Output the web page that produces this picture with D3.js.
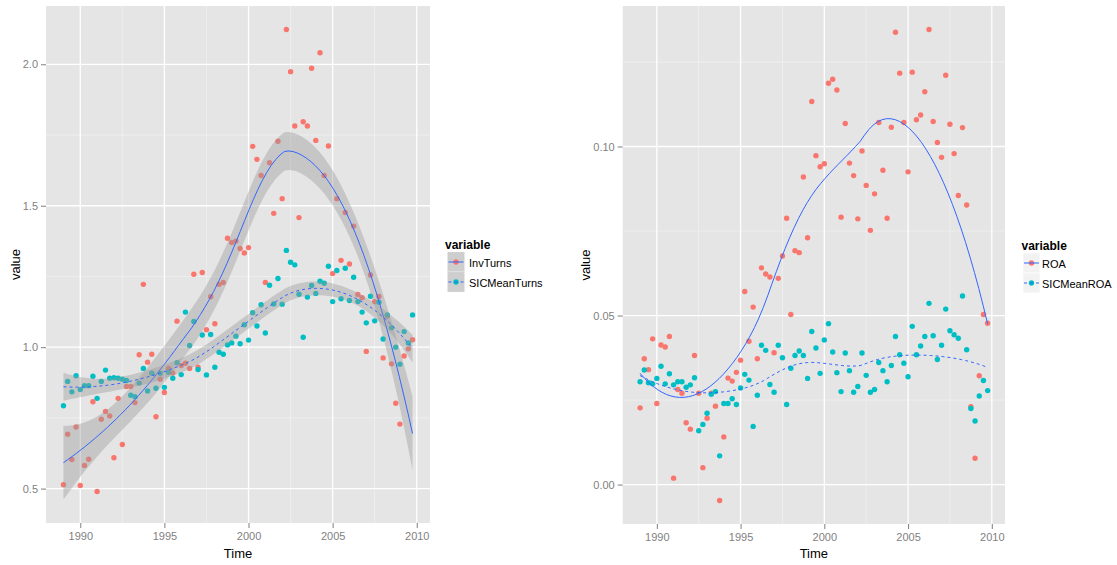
<!DOCTYPE html>
<html>
<head>
<meta charset="utf-8">
<script src="https://cdn.jsdelivr.net/npm/d3@7"></script>
<style>
  body { margin: 0; background: #fff; }
  text { font-family: "Liberation Sans", Arial, sans-serif; }
</style>
</head>
<body>
<svg id="chart" width="1117" height="565"></svg>
<script>
// Quarterly observations, 1989Q1 – 2009Q4
const time = d3.range(84).map(i => 1989 + i / 4);

// Inventory turns: firm vs. SIC industry mean
const invTurns = [
  0.514, 0.692, 0.603, 0.718, 0.511, 0.582, 0.604, 0.807, 0.490, 0.745,
  0.773, 0.757, 0.609, 0.819, 0.656, 0.861, 0.861, 0.804, 0.973, 1.222,
  0.947, 0.975, 0.754, 0.887, 0.840, 0.925, 0.909, 1.092, 0.935, 0.943,
  0.925, 1.258, 0.929, 1.264, 1.062, 1.178, 1.083, 1.222, 1.229, 1.385,
  1.370, 1.375, 1.349, 1.333, 1.352, 1.710, 1.664, 1.607, 1.229, 1.652,
  1.473, 1.728, 1.525, 2.123, 1.974, 1.782, 1.458, 1.797, 1.782, 1.986,
  1.731, 2.041, 1.607, 1.711, 1.260, 1.525, 1.307, 1.476, 1.294, 1.428,
  1.186, 1.175, 0.985, 1.255, 1.161, 1.179, 0.962, 1.110, 0.941, 0.802,
  0.728, 0.969, 0.994, 1.026
];
const sicMeanTurns = [
  0.793, 0.879, 0.842, 0.899, 0.850, 0.864, 0.864, 0.897, 0.819, 0.879,
  0.919, 0.890, 0.892, 0.890, 0.887, 0.882, 0.830, 0.825, 0.873, 0.925,
  0.845, 0.908, 0.855, 0.908, 0.858, 0.911, 0.890, 0.945, 0.903, 1.124,
  1.006, 1.091, 0.921, 1.043, 0.902, 1.045, 0.929, 0.982, 0.975, 1.008,
  1.015, 1.039, 1.012, 1.079, 1.025, 1.122, 1.075, 1.150, 1.050, 1.219,
  1.153, 1.243, 1.152, 1.342, 1.300, 1.291, 1.187, 1.035, 1.177, 1.218,
  1.190, 1.233, 1.226, 1.286, 1.161, 1.271, 1.171, 1.279, 1.165, 1.247,
  1.161, 1.124, 1.086, 1.180, 1.093, 1.159, 1.029, 1.114, 1.069, 1.000,
  0.940, 1.055, 1.015, 1.114
];

// Return on assets: firm vs. SIC industry mean
const roa = [
  0.0227, 0.0372, 0.0340, 0.0431, 0.0240, 0.0413, 0.0407, 0.0438, 0.0019, 0.0281,
  0.0270, 0.0183, 0.0164, 0.0382, 0.0270, 0.0050, 0.0196, 0.0270, 0.0232, -0.0047,
  0.0141, 0.0315, 0.0306, 0.0332, 0.0368, 0.0571, 0.0424, 0.0525, 0.0372, 0.0641,
  0.0623, 0.0614, 0.0390, 0.0610, 0.0676, 0.0788, 0.0503, 0.0692, 0.0686, 0.0910,
  0.0730, 0.1133, 0.0973, 0.0940, 0.0949, 0.1187, 0.1199, 0.1167, 0.0791, 0.1068,
  0.0951, 0.0914, 0.0786, 0.0987, 0.0885, 0.0752, 0.0860, 0.1071, 0.0930, 0.0788,
  0.1057, 0.1338, 0.1217, 0.1071, 0.0925, 0.1220, 0.1079, 0.1093, 0.1162, 0.1346,
  0.1074, 0.1012, 0.0968, 0.1211, 0.1066, 0.0979, 0.0855, 0.1056, 0.0827, 0.0230,
  0.0078, 0.0322, 0.0503, 0.0477
];
const sicMeanROA = [
  0.0304, 0.0339, 0.0301, 0.0298, 0.0314, 0.0350, 0.0298, 0.0328, 0.0295, 0.0304,
  0.0304, 0.0288, 0.0295, 0.0316, 0.0159, 0.0178, 0.0211, 0.0267, 0.0275, 0.0085,
  0.0240, 0.0240, 0.0254, 0.0237, 0.0286, 0.0326, 0.0309, 0.0172, 0.0264, 0.0412,
  0.0397, 0.0296, 0.0273, 0.0412, 0.0375, 0.0237, 0.0344, 0.0382, 0.0395, 0.0382,
  0.0314, 0.0453, 0.0404, 0.0329, 0.0428, 0.0476, 0.0392, 0.0331, 0.0275, 0.0389,
  0.0337, 0.0273, 0.0290, 0.0389, 0.0323, 0.0273, 0.0281, 0.0361, 0.0337, 0.0304,
  0.0352, 0.0438, 0.0384, 0.0359, 0.0319, 0.0468, 0.0384, 0.0410, 0.0438, 0.0536,
  0.0440, 0.0370, 0.0412, 0.0519, 0.0455, 0.0443, 0.0433, 0.0558, 0.0399, 0.0225,
  0.0188, 0.0262, 0.0308, 0.0278
];

const xTickValues = [1990, 1995, 2000, 2005, 2010];
const turnsTickValues = [0.5, 1.0, 1.5, 2.0];
const roaTickValues = [0.00, 0.05, 0.10];
const turnsNames = ["InvTurns", "SICMeanTurns"];
const roaNames = ["ROA", "SICMeanROA"];
const seriesColors = ["#F8766D", "#00BFC4"];
const seriesDash = [null, "3,3"];
const smoothColor = "#3366FF";

// ---------- local quadratic regression (loess, span 0.75, tricube weights) ----------
function invert3(m) {
  const [a, b, c] = m[0], [d, e, f] = m[1], [g, h, k] = m[2];
  const A = e * k - f * h, B = -(d * k - f * g), C = d * h - e * g;
  const det = a * A + b * B + c * C;
  return [
    [A / det, -(b * k - c * h) / det, (b * f - c * e) / det],
    [B / det, (a * k - c * g) / det, -(a * f - c * d) / det],
    [C / det, -(a * h - b * g) / det, (a * e - b * d) / det]
  ];
}
function loessWeights(xs, x0, span) {
  const n = xs.length;
  const q = Math.floor(n * span);
  const dist = xs.map(x => Math.abs(x - x0));
  const h = dist.slice().sort((a, b) => a - b)[q - 1] * 1.0000001;
  const w = dist.map(v => { const u = v / h; return u < 1 ? Math.pow(1 - u * u * u, 3) : 0; });
  const S = [[0, 0, 0], [0, 0, 0], [0, 0, 0]];
  xs.forEach((x, i) => {
    const t = x - x0, b = [1, t, t * t];
    for (let r = 0; r < 3; r++) for (let c = 0; c < 3; c++) S[r][c] += w[i] * b[r] * b[c];
  });
  const inv = invert3(S)[0];
  return xs.map((x, i) => { const t = x - x0; return w[i] * (inv[0] + inv[1] * t + inv[2] * t * t); });
}
function qt975(df) {
  const z = 1.959964;
  const g1 = (z ** 3 + z) / 4;
  const g2 = (5 * z ** 5 + 16 * z ** 3 + 3 * z) / 96;
  const g3 = (3 * z ** 7 + 19 * z ** 5 + 17 * z ** 3 - 15 * z) / 384;
  return z + g1 / df + g2 / df ** 2 + g3 / df ** 3;
}
function loessSmooth(xs, ys, span, nEval) {
  const n = xs.length;
  const L = xs.map(x0 => loessWeights(xs, x0, span));
  const fitted = L.map(r => d3.sum(r, (v, j) => v * ys[j]));
  const A = L.map((r, i) => r.map((v, j) => (i === j ? 1 : 0) - v));
  let delta1 = 0, delta2 = 0;
  for (let j = 0; j < n; j++) {
    for (let k = 0; k < n; k++) {
      let m = 0;
      for (let i = 0; i < n; i++) m += A[i][j] * A[i][k];
      if (j === k) delta1 += m;
      delta2 += m * m;
    }
  }
  const rss = d3.sum(ys, (y, i) => (y - fitted[i]) ** 2);
  const s = Math.sqrt(rss / delta1);
  const tq = qt975(delta1 * delta1 / delta2);
  const [lo, hi] = d3.extent(xs);
  return d3.range(nEval).map(k => {
    const x = lo + (hi - lo) * k / (nEval - 1);
    const r = loessWeights(xs, x, span);
    const fit = d3.sum(r, (v, j) => v * ys[j]);
    const se = s * Math.sqrt(d3.sum(r, v => v * v));
    return { x, fit, lo: fit - tq * se, hi: fit + tq * se };
  });
}

// ---------- drawing ----------
const svg = d3.select("#chart");

const panels = [
  {
    left: 46, right: 430, top: 6, bottom: 523,
    series: [invTurns, sicMeanTurns], names: turnsNames, yTicks: turnsTickValues,
    yFormat: d3.format(".1f"), band: true,
    titleX: 445, titleY: 249, keyX: 447.5, keyY: 252, keyW: 17, labelX: 469,
    yTitleX: 20
  },
  {
    left: 622.7, right: 1005, top: 6, bottom: 524,
    series: [roa, sicMeanROA], names: roaNames, yTicks: roaTickValues,
    yFormat: d3.format(".2f"), band: false,
    titleX: 1021.5, titleY: 250, keyX: 1023, keyY: 253, keyW: 17, labelX: 1042,
    yTitleX: 590
  }
];

function expand(ext) {
  const pad = (ext[1] - ext[0]) * 0.05;
  return [ext[0] - pad, ext[1] + pad];
}

panels.forEach(p => {
  const smooths = p.series.map(ys => loessSmooth(time, ys, 0.75, 80));

  let yExt = d3.extent(p.series.flat());
  if (p.band) {
    smooths.forEach(sm => {
      yExt = [Math.min(yExt[0], d3.min(sm, d => d.lo)), Math.max(yExt[1], d3.max(sm, d => d.hi))];
    });
  }
  const x = d3.scaleLinear().domain(expand(d3.extent(time))).range([p.left, p.right]);
  const y = d3.scaleLinear().domain(expand(yExt)).range([p.bottom, p.top]);

  const g = svg.append("g");
  // panel background
  g.append("rect")
    .attr("x", p.left).attr("y", p.top)
    .attr("width", p.right - p.left).attr("height", p.bottom - p.top)
    .attr("fill", "#E5E5E5");

  // minor grid
  const xMinor = d3.range(1987.5, 2013, 5).filter(v => v > x.domain()[0] && v < x.domain()[1]);
  const yStep = p.yTicks[1] - p.yTicks[0];
  const yMinor = d3.range(p.yTicks[0] - yStep / 2, p.yTicks[p.yTicks.length - 1] + yStep, yStep)
    .filter(v => v > y.domain()[0] && v < y.domain()[1]);
  g.selectAll(".vminor").data(xMinor).join("line")
    .attr("x1", d => x(d)).attr("x2", d => x(d)).attr("y1", p.top).attr("y2", p.bottom)
    .attr("stroke", "#F2F2F2").attr("stroke-width", 0.7);
  g.selectAll(".hminor").data(yMinor).join("line")
    .attr("y1", d => y(d)).attr("y2", d => y(d)).attr("x1", p.left).attr("x2", p.right)
    .attr("stroke", "#F2F2F2").attr("stroke-width", 0.7);
  // major grid
  g.selectAll(".vmajor").data(xTickValues).join("line")
    .attr("x1", d => x(d)).attr("x2", d => x(d)).attr("y1", p.top).attr("y2", p.bottom)
    .attr("stroke", "#FFFFFF").attr("stroke-width", 1.3);
  g.selectAll(".hmajor").data(p.yTicks).join("line")
    .attr("y1", d => y(d)).attr("y2", d => y(d)).attr("x1", p.left).attr("x2", p.right)
    .attr("stroke", "#FFFFFF").attr("stroke-width", 1.3);

  // points
  p.series.forEach((ys, s) => {
    g.append("g").selectAll("circle").data(ys).join("circle")
      .attr("cx", (d, i) => x(time[i])).attr("cy", d => y(d)).attr("r", 2.7)
      .attr("fill", seriesColors[s]);
  });

  // smoothers (band + fitted line per series)
  smooths.forEach((sm, s) => {
    if (p.band) {
      g.append("path").datum(sm)
        .attr("d", d3.area().x(d => x(d.x)).y0(d => y(d.lo)).y1(d => y(d.hi)))
        .attr("fill", "#999999").attr("fill-opacity", 0.4);
    }
    g.append("path").datum(sm)
      .attr("d", d3.line().x(d => x(d.x)).y(d => y(d.fit)))
      .attr("fill", "none").attr("stroke", smoothColor).attr("stroke-width", 1)
      .attr("stroke-dasharray", seriesDash[s]);
  });

  // axes
  const ax = svg.append("g").attr("transform", `translate(0,${p.bottom})`)
    .call(d3.axisBottom(x).tickValues(xTickValues).tickFormat(d3.format("d")).tickSize(5).tickPadding(4));
  const ay = svg.append("g").attr("transform", `translate(${p.left},0)`)
    .call(d3.axisLeft(y).tickValues(p.yTicks).tickFormat(p.yFormat).tickSize(5).tickPadding(3));
  [ax, ay].forEach(a => {
    a.select(".domain").remove();
    a.selectAll(".tick line").attr("stroke", "#7F7F7F");
    a.selectAll(".tick text").attr("fill", "#7F7F7F").style("font-size", "11px")
      .style("font-family", '"Liberation Sans", Arial, sans-serif');
  });

  // axis titles
  svg.append("text").attr("x", (p.left + p.right) / 2).attr("y", 558)
    .attr("text-anchor", "middle").style("font-size", "13px").attr("fill", "#000").text("Time");
  svg.append("text")
    .attr("transform", `translate(${p.yTitleX},${(p.top + p.bottom) / 2}) rotate(-90)`)
    .attr("text-anchor", "middle").style("font-size", "13px").attr("fill", "#000").text("value");

  // legend
  const lg = svg.append("g");
  lg.append("text").attr("x", p.titleX).attr("y", p.titleY)
    .style("font-size", "12px").style("font-weight", "bold").text("variable");
  p.names.forEach((name, s) => {
    const ky = p.keyY + s * 20;
    lg.append("rect").attr("x", p.keyX).attr("y", ky).attr("width", p.keyW).attr("height", 20)
      .attr("fill", "#F2F2F2").attr("stroke", "#FFFFFF").attr("stroke-width", 0.6);
    if (p.band) {
      lg.append("rect").attr("x", p.keyX).attr("y", ky).attr("width", p.keyW).attr("height", 20)
        .attr("fill", "#999999").attr("fill-opacity", 0.4);
    }
    lg.append("circle").attr("cx", p.keyX + p.keyW / 2).attr("cy", ky + 10).attr("r", 2.7)
      .attr("fill", seriesColors[s]);
    lg.append("line").attr("x1", p.keyX + 1).attr("x2", p.keyX + p.keyW - 1)
      .attr("y1", ky + 10).attr("y2", ky + 10)
      .attr("stroke", smoothColor).attr("stroke-width", 1).attr("stroke-dasharray", seriesDash[s]);
    lg.append("text").attr("x", p.labelX).attr("y", ky + 14.5)
      .style("font-size", "11px").attr("fill", "#000").text(name);
  });
});
</script>
</body>
</html>
